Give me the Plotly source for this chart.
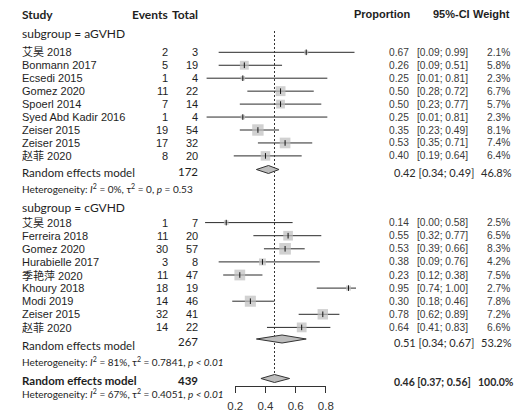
import numpy as np
import plotly.graph_objects as go

# ---------------- data ----------------
studies_a = ["艾昊 2018", "Bonmann 2017", "Ecsedi 2015", "Gomez 2020", "Spoerl 2014",
             "Syed Abd Kadir 2016", "Zeiser 2015", "Zeiser 2015", "赵菲 2020"]
events_a = [2, 5, 1, 11, 7, 1, 19, 17, 8]
total_a = [3, 19, 4, 22, 14, 4, 54, 32, 20]
prop_a = [0.67, 0.26, 0.25, 0.50, 0.50, 0.25, 0.35, 0.53, 0.40]
lower_a = [0.09, 0.09, 0.01, 0.28, 0.23, 0.01, 0.23, 0.35, 0.19]
upper_a = [0.99, 0.51, 0.81, 0.72, 0.77, 0.81, 0.49, 0.71, 0.64]
weight_a = [2.1, 5.8, 2.3, 6.7, 5.7, 2.3, 8.1, 7.4, 6.4]

studies_c = ["艾昊 2018", "Ferreira 2018", "Gomez 2020", "Hurabielle 2017", "季艳萍 2020",
             "Khoury 2018", "Modi 2019", "Zeiser 2015", "赵菲 2020"]
events_c = [1, 11, 30, 3, 11, 18, 14, 32, 14]
total_c = [7, 20, 57, 8, 47, 19, 46, 41, 22]
prop_c = [0.14, 0.55, 0.53, 0.38, 0.23, 0.95, 0.30, 0.78, 0.64]
lower_c = [0.00, 0.32, 0.39, 0.09, 0.12, 0.74, 0.18, 0.62, 0.41]
upper_c = [0.58, 0.77, 0.66, 0.76, 0.38, 1.00, 0.46, 0.89, 0.83]
weight_c = [2.5, 6.5, 8.3, 4.2, 7.5, 2.7, 7.8, 7.2, 6.6]

# summaries: [aGVHD, cGVHD, overall]
sum_total = [172, 267, 439]
sum_prop = [0.42, 0.51, 0.46]
sum_lower = [0.34, 0.34, 0.37]
sum_upper = [0.49, 0.67, 0.56]
sum_weight = [46.8, 53.2, 100.0]
het_i2 = ["0%", "81%", "67%"]
het_tau2 = ["0", "0.7841", "0.4051"]
het_p = ["= 0.53", "< 0.01", "< 0.01"]

subgroup_labels = ["subgroup = aGVHD", "subgroup = cGVHD"]
tick_vals = [0.2, 0.4, 0.6, 0.8]

# ---------------- layout geometry (pixels) ----------------
W, H = 532, 416
X0_PX, PX_PER_UNIT = 203.2, 155.6
xr = [-X0_PX / PX_PER_UNIT, (W - X0_PX) / PX_PER_UNIT]
AXIS_Y = 386

rows_a = [52.3 + 12.95 * i for i in range(len(studies_a))]
rows_c = [222.6 + 13.1 * i for i in range(len(studies_c))]
sum_diamond_y = [169.5, 339.0, 378.5]
sum_text_y = [172.5, 345.5, 380.0]
sum_num_y = [171.8, 341.2, 380.0]
sum_right_y = [172.0, 342.6, 382.0]
het_y = [188.5, 361.0, 393.0]
sub_y = [33.5, 207.0]
header_y = 14

TXT = "#1e1e1e"
NUM = "#3a3a3a"
ARIAL = "Liberation Sans, Arial, Noto Sans CJK SC"
CAL = "Lato, Open Sans, sans-serif"

fig = go.Figure()

def square_size(w):
    return 11.5 * (w / 8.2) ** 0.75

def add_block(prop, lo, hi, w, ys):
    xs, yy = [], []
    for a, b, y in zip(lo, hi, ys):
        xs += [a, b, None]
        yy += [y, y, None]
    fig.add_trace(go.Scatter(x=xs, y=yy, mode="lines",
                             line=dict(color="#2a2a2a", width=1), hoverinfo="skip"))
    fig.add_trace(go.Scatter(x=prop, y=ys, mode="markers", hoverinfo="skip",
                             marker=dict(symbol="square", color="#bdbdbd",
                                         size=[square_size(v) for v in w],
                                         line=dict(width=0))))
    fig.add_trace(go.Scatter(x=prop, y=ys, mode="markers", hoverinfo="skip",
                             marker=dict(symbol="line-ns", size=4,
                                         line=dict(color="#111111", width=1))))

add_block(prop_a, lower_a, upper_a, weight_a, rows_a)
add_block(prop_c, lower_c, upper_c, weight_c, rows_c)

# overall dotted reference line
fig.add_trace(go.Scatter(x=[sum_prop[2], sum_prop[2]], y=[31, 380.5], mode="lines",
                         hoverinfo="skip",
                         line=dict(color="#333333", width=1, dash="2px,2px")))

# diamonds
for est, lo, hi, y in zip(sum_prop, sum_lower, sum_upper, sum_diamond_y):
    fig.add_trace(go.Scatter(x=[lo, est, hi, est, lo], y=[y, y - 4, y, y + 4, y],
                             mode="lines", fill="toself", fillcolor="#bdbdbd",
                             line=dict(color="#333333", width=1), hoverinfo="skip"))

# dummy trace so the visible proportion axis is drawn
fig.add_trace(go.Scatter(x=[tick_vals[0], tick_vals[-1]], y=[None, None],
                         xaxis="x2", yaxis="y", mode="markers", hoverinfo="skip"))

ann = []
def txt(s, xpx, y, anchor="left", size=11, family=ARIAL, color=TXT, bold=False):
    if bold:
        s = "<b>" + s + "</b>"
    ann.append(dict(text=s, x=xpx / W, xref="paper", y=y, yref="y",
                    xanchor=anchor, yanchor="middle", showarrow=False,
                    font=dict(size=size, family=family, color=color)))

# headers
txt("Study", 12, header_y, size=12, family=CAL, bold=True)
txt("Events", 167, header_y, "right", size=12, family=CAL, bold=True)
txt("Total", 198, header_y, "right", size=12, family=CAL, bold=True)
txt("Proportion", 416.7, header_y, "right", size=11, bold=True)
txt("95%-CI", 478, header_y, "right", size=11, bold=True)
txt("Weight", 520, header_y, "right", size=11, bold=True)

for lab, y in zip(subgroup_labels, sub_y):
    txt(lab, 12, y, size=12, family=CAL)

def study_rows(studies, ev, tot, prop, lo, hi, w, ys):
    for s, e, t, p, a, b, ww, y in zip(studies, ev, tot, prop, lo, hi, w, ys):
        txt(s, 12, y, size=11)
        txt(str(e), 167, y, "right", size=11)
        txt(str(t), 198, y, "right", size=11)
        txt(f"{p:.2f}", 415.5, y, "right", size=10.2, color=NUM)
        txt(f"[{a:.2f}; {b:.2f}]", 420, y, "left", size=10.2, color=NUM)
        txt(f"{ww:.1f}%", 519.5, y, "right", size=10.2, color=NUM)

study_rows(studies_a, events_a, total_a, prop_a, lower_a, upper_a, weight_a, rows_a)
study_rows(studies_c, events_c, total_c, prop_c, lower_c, upper_c, weight_c, rows_c)

for i in range(3):
    bold = (i == 2)
    rsize = 10.5 if bold else 11
    wx = 524 if bold else 521.5
    txt("Random effects model", 12, sum_text_y[i], size=11.5, family=CAL, bold=bold)
    txt(str(sum_total[i]), 198, sum_num_y[i], "right", size=11.5, family=CAL, bold=bold)
    txt(f"{sum_prop[i]:.2f} [{sum_lower[i]:.2f}; {sum_upper[i]:.2f}]", 396, sum_right_y[i],
        "left", size=rsize, family=CAL, color="#2a2a2a", bold=bold)
    txt(f"{sum_weight[i]:.1f}%", wx, sum_right_y[i], "right", size=rsize, family=CAL,
        color="#2a2a2a", bold=bold)
    ptxt = f"<i>p</i> {het_p[i]}" if het_p[i].startswith("=") else f"<i>p {het_p[i]}</i>"
    txt(f"Heterogeneity: <i>I</i><sup>2</sup> = {het_i2[i]}, τ<sup>2</sup> = {het_tau2[i]}, {ptxt}",
        12, het_y[i], size=10, family=CAL)

fig.update_layout(
    width=W, height=H, margin=dict(l=0, r=0, t=0, b=0),
    paper_bgcolor="white", plot_bgcolor="rgba(0,0,0,0)", showlegend=False,
    annotations=ann,
    xaxis=dict(range=xr, domain=[0, 1], visible=False, fixedrange=True),
    yaxis=dict(range=[H, 0], domain=[0, 1], visible=False, fixedrange=True),
    xaxis2=dict(range=[tick_vals[0], tick_vals[-1]],
                domain=[(X0_PX + tick_vals[0] * PX_PER_UNIT) / W,
                        (X0_PX + tick_vals[-1] * PX_PER_UNIT) / W],
                anchor="free", position=(H - AXIS_Y) / H,
                tickvals=tick_vals, ticktext=[f"{v:.1f}" for v in tick_vals],
                ticks="outside", ticklen=6, tickcolor="#333333", tickwidth=1,
                showline=True, linecolor="#333333", linewidth=1,
                showgrid=False, zeroline=False, ticklabelstandoff=3,
                tickfont=dict(size=11.5, family=ARIAL, color="#333333")),
)

fig.write_html("out.html")
